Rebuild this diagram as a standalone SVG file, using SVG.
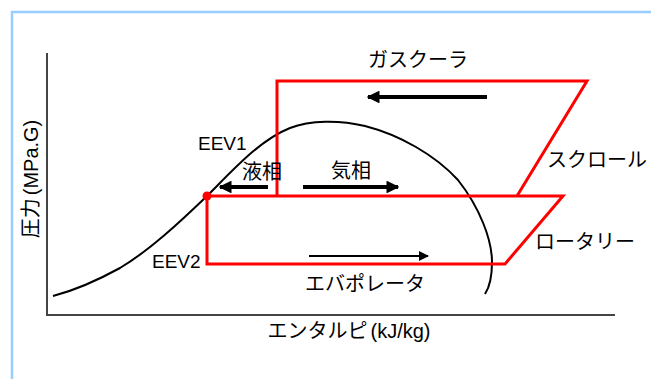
<svg xmlns="http://www.w3.org/2000/svg" width="651" height="379" viewBox="0 0 651 379">
<style>
.t{font-family:"Liberation Sans","Noto Sans CJK JP",sans-serif;font-size:19px;fill:#000}
.j{font-family:"Liberation Sans","Noto Sans CJK JP",sans-serif;font-size:20px;fill:#000}
.red{fill:none;stroke:#ff0000;stroke-width:3;stroke-linejoin:miter}
.ax{fill:none;stroke:#444;stroke-width:2}
.arr{stroke:#000;fill:none}
</style>
<defs>
<marker id="ah" viewBox="0 0 10 10" refX="9" refY="5" markerWidth="3.2" markerHeight="3.2" orient="auto" markerUnits="strokeWidth">
<path d="M0,0 L10,5 L0,10 Z" fill="#000"/>
</marker>
<marker id="ah2" viewBox="0 0 10 10" refX="9" refY="5" markerWidth="5" markerHeight="5" orient="auto" markerUnits="strokeWidth">
<path d="M0,0 L10,5 L0,10 Z" fill="#000"/>
</marker>
</defs>
<g id="frame">
<path d="M12,379 L12,12 L651,12" fill="none" stroke="#99ccff" stroke-width="2.5"/>
</g>
<g id="axes">
<path class="ax" d="M47,53 L47,315 L615,315"/>
<text class="j" x="349" y="338" text-anchor="middle">エンタルピ<tspan dx="3">(kJ/kg)</tspan></text>
<text class="j" transform="translate(38,179) rotate(-90)" text-anchor="middle">圧力<tspan dx="3">(MPa.G)</tspan></text>
</g>
<g id="saturation-curve">
<path d="M53,296 C80,289 100,279 120,268 C150,250 180,222 207,196 C235,168 260,140 290,128 C310,120 340,120 365,126 C400,135 435,155 458,180 C480,208 492,240 492,262 C492,278 489,288 485,294" fill="none" stroke="#000" stroke-width="2"/>
</g>
<g id="cycle">
<path class="red" d="M277,196 L277,81 L587,81 L517,196"/>
<path class="red" d="M207,196 L563,196 L505,264 L207,264 Z"/>
<circle cx="207" cy="196" r="4.5" fill="#ff0000"/>
</g>
<g id="connectors">
<line class="arr" x1="487" y1="97" x2="368" y2="97" stroke-width="4" marker-end="url(#ah)"/>
<line class="arr" x1="268" y1="187" x2="220" y2="187" stroke-width="4" marker-end="url(#ah)"/>
<line class="arr" x1="303" y1="187" x2="398" y2="187" stroke-width="4" marker-end="url(#ah)"/>
<line class="arr" x1="309" y1="256" x2="428" y2="256" stroke-width="2" marker-end="url(#ah2)"/>
</g>
<g id="labels">
<text id="gascooler" class="j" x="368" y="67">ガスクーラ</text>
<text id="eev1" class="t" x="198" y="150">EEV1</text>
<text id="liquid" class="j" x="242" y="179">液相</text>
<text id="gas" class="j" x="331" y="178">気相</text>
<text id="scroll" class="j" x="547" y="167">スクロール</text>
<text id="rotary" class="j" x="535" y="249">ロータリー</text>
<text id="eev2" class="t" x="152" y="268">EEV2</text>
<text id="evaporator" class="j" x="305" y="291">エバポレータ</text>
</g>
</svg>
